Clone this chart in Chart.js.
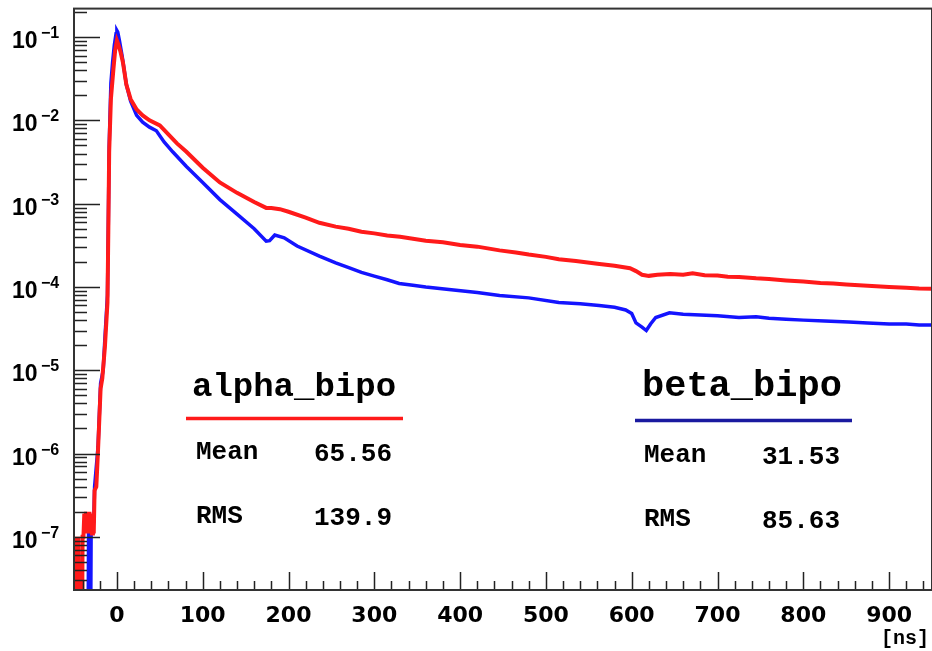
<!DOCTYPE html>
<html>
<head>
<meta charset="utf-8">
<script src="https://cdn.jsdelivr.net/npm/chart.js@4.4.1/dist/chart.umd.min.js"></script>
<style>
  html, body { margin: 0; padding: 0; background: #fff; }
  #wrap { width: 932px; height: 651px; }
</style>
</head>
<body>
<div id="wrap"><canvas id="timeChart" width="932" height="651"></canvas></div>
<script>
// alpha_bipo (red) - time [ns] and normalised amplitude
const alphaX = [-50, -49, -46, -45, -44, -41, -40, -39, -38, -37, -36, -35, -34, -33, -32, -31, -30, -29, -28, -27,
  -26, -24, -22, -19, -17, -14, -11, -10, -9, -7, -6, -4, -2, 0, 2, 4, 7, 11, 16, 23, 30, 38, 50, 60, 70, 81,
  100, 120, 140, 160, 174, 180, 190, 200, 220, 236, 255, 270, 285, 300, 315, 330, 345, 360, 380, 400, 420, 446,
  465, 480, 500, 515, 535, 560, 580, 598, 605, 612, 620, 630, 645, 660, 671, 685, 700, 712, 725, 745, 760, 780,
  800, 820, 835, 850, 870, 885, 900, 920, 935, 950];
const alphaY = [1e-7, 1e-9, 1e-9, 1e-7, 1e-9, 1e-9, 1e-7, 1e-7, 1.9e-7, 1.1e-7, 2e-7, 1.1e-7, 1.9e-7, 1.1e-7, 2e-7, 1.2e-7, 1.9e-7, 1.1e-7, 1.8e-7, 1.1e-7,
  3.6e-7, 4e-7, 1.1e-6, 6e-6, 8e-6, 1.9e-5, 6.5e-5, 4.7e-4, 4.2e-3, 0.018, 0.024, 0.042, 0.07, 0.091, 0.08, 0.068, 0.05, 0.027, 0.018, 0.0135, 0.0115, 0.01, 0.0087, 0.0068, 0.0053, 0.0042,
  0.0027, 0.0018, 0.00135, 0.00105, 8.9e-4, 8.9e-4, 8.6e-4, 8.0e-4, 6.8e-4, 5.9e-4, 5.3e-4, 5.0e-4, 4.6e-4, 4.4e-4, 4.15e-4, 4.0e-4, 3.8e-4, 3.6e-4, 3.45e-4, 3.2e-4, 3.05e-4, 2.75e-4,
  2.6e-4, 2.45e-4, 2.3e-4, 2.15e-4, 2.05e-4, 1.9e-4, 1.8e-4, 1.68e-4, 1.55e-4, 1.4e-4, 1.36e-4, 1.4e-4, 1.43e-4, 1.4e-4, 1.46e-4, 1.38e-4, 1.37e-4, 1.33e-4, 1.32e-4, 1.27e-4, 1.25e-4, 1.2e-4,
  1.16e-4, 1.12e-4, 1.1e-4, 1.07e-4, 1.04e-4, 1.02e-4, 1.0e-4, 9.8e-5, 9.6e-5, 9.5e-5];

// beta_bipo (blue)
const betaX = [-50, -34, -33, -32, -31, -30, -29, -28, -27, -26, -22, -19, -16, -14, -11, -10, -9, -7, -5, -3, -1, 0, 1, 3, 6, 11, 16, 23, 30, 38, 46,
  55, 65, 81, 100, 120, 140, 160, 174, 178, 184, 195, 210, 236, 255, 271, 285, 300, 315, 329, 345, 360, 387, 420, 446, 480, 515, 540, 562, 580, 593,
  600, 605, 612, 617, 622, 628, 644, 660, 680, 700, 725, 745, 760, 780, 800, 825, 853, 875, 900, 920, 935, 950];
const betaY = [1e-9, 1e-9, 1.3e-7, 1e-9, 1e-9, 1.3e-7, 1.5e-7, 1.4e-7, 1.5e-7, 4e-7, 1.2e-6, 7e-6, 1e-5, 2.4e-5, 8e-5, 6e-4, 5e-3, 0.028, 0.05, 0.08, 0.11, 0.12, 0.115, 0.09, 0.06, 0.027, 0.017, 0.0115, 0.0095, 0.0083, 0.0075,
  0.0055, 0.0042, 0.0028, 0.0018, 0.00112, 7.5e-4, 5e-4, 3.55e-4, 3.6e-4, 4.2e-4, 3.9e-4, 3.1e-4, 2.35e-4, 1.95e-4, 1.7e-4, 1.5e-4, 1.35e-4, 1.22e-4, 1.1e-4, 1.05e-4, 1.0e-4, 9.3e-5, 8.6e-5, 7.9e-5, 7.4e-5, 6.5e-5, 6.3e-5, 6.0e-5, 5.7e-5, 5.3e-5,
  4.8e-5, 3.7e-5, 3.3e-5, 3.0e-5, 3.6e-5, 4.3e-5, 4.9e-5, 4.7e-5, 4.6e-5, 4.5e-5, 4.3e-5, 4.4e-5, 4.2e-5, 4.1e-5, 4.0e-5, 3.9e-5, 3.8e-5, 3.7e-5, 3.6e-5, 3.6e-5, 3.5e-5, 3.5e-5];

// axis ticks
const xMajor = [0, 100, 200, 300, 400, 500, 600, 700, 800, 900];
const xMinorStep = 20;
const yDecades = [1e-7, 1e-6, 1e-5, 1e-4, 1e-3, 1e-2, 1e-1];
const yExponents = ["\u22127", "\u22126", "\u22125", "\u22124", "\u22123", "\u22122", "\u22121"];

// stat boxes
const statNames = ["alpha_bipo", "beta_bipo"];
const statMeans = ["65.56", "31.53"];
const statRMS = ["139.9", "85.63"];
const statColors = ["#ff1a1a", "#1a1aa0"];

const X_MIN = -50, X_MAX = 950, Y_MIN = 2.3e-8, Y_MAX = 0.22;

function toPoints(xs, ys) {
  return xs.map((x, i) => ({ x: x, y: ys[i] }));
}

function isDecade(v) {
  return yDecades.findIndex(d => Math.abs(d - v) / d < 1e-6);
}

// ticks drawn inside the frame, ROOT style, plus 10^n labels
const frameTicks = {
  id: "frameTicks",
  afterDatasetsDraw(chart) {
    const ctx = chart.ctx;
    const a = chart.chartArea;
    const xs = chart.scales.x, ys = chart.scales.y;
    ctx.save();
    ctx.strokeStyle = "#222";
    ctx.lineWidth = 1.5;
    ctx.beginPath();
    xs.ticks.forEach(t => {
      const px = Math.round(xs.getPixelForValue(t.value)) + 0.5;
      if (px < a.left + 2 || px > a.right - 1) return;
      const len = xMajor.includes(t.value) ? 18 : 9;
      ctx.moveTo(px, a.bottom);
      ctx.lineTo(px, a.bottom - len);
    });
    ys.ticks.forEach(t => {
      const py = Math.round(ys.getPixelForValue(t.value)) + 0.5;
      if (py < a.top + 1 || py > a.bottom - 1) return;
      const len = isDecade(t.value) >= 0 ? 26 : 13;
      ctx.moveTo(a.left, py);
      ctx.lineTo(a.left + len, py);
    });
    ctx.stroke();
    // frame
    ctx.strokeStyle = "#333";
    ctx.lineWidth = 2;
    ctx.strokeRect(a.left, a.top, a.right - a.left, a.bottom - a.top);

    // y labels: "10" with a raised exponent
    ctx.fillStyle = "#000";
    ctx.textBaseline = "alphabetic";
    ctx.textAlign = "left";
    yDecades.forEach((d, i) => {
      const py = ys.getPixelForValue(d);
      ctx.font = "bold 23px 'Liberation Sans', Arial, sans-serif";
      ctx.fillText("10", a.left - 62, py + 11);
      ctx.font = "bold 16px 'Liberation Sans', Arial, sans-serif";
      ctx.fillText(yExponents[i], a.left - 33, py + 1);
    });
    ctx.restore();
  }
};

// the two stats boxes and axis title
const statBoxes = {
  id: "statBoxes",
  afterDraw(chart) {
    const ctx = chart.ctx;
    const a = chart.chartArea;
    const boxes = [
      { text: a.left + 122, lineL: a.left + 112, lineR: a.left + 329, title: a.left + 118, titleSize: 34, val: a.left + 318, dy: 0 },
      { text: a.left + 570, lineL: a.left + 561, lineR: a.left + 778, title: a.left + 568, titleSize: 37, val: a.left + 766, dy: 3 }
    ];
    ctx.save();
    boxes.forEach((b, i) => {
      ctx.fillStyle = "#000";
      ctx.textBaseline = "alphabetic";
      ctx.textAlign = "left";
      ctx.font = "bold " + b.titleSize + "px 'Liberation Mono', 'DejaVu Sans Mono', monospace";
      ctx.fillText(statNames[i], b.title, a.top + 387);
      ctx.strokeStyle = statColors[i];
      ctx.lineWidth = 3.5;
      ctx.beginPath();
      ctx.moveTo(b.lineL, a.top + 410 + (i ? 2 : 0));
      ctx.lineTo(b.lineR, a.top + 410 + (i ? 2 : 0));
      ctx.stroke();
      ctx.font = "bold 26px 'Liberation Mono', 'DejaVu Sans Mono', monospace";
      ctx.fillText("Mean", b.text, a.top + 450 + b.dy);
      ctx.fillText("RMS", b.text, a.top + 514 + b.dy);
      ctx.textAlign = "right";
      ctx.fillText(statMeans[i], b.val, a.top + 452 + b.dy);
      ctx.fillText(statRMS[i], b.val, a.top + 516 + b.dy);
    });
    ctx.font = "bold 20px 'Liberation Mono', 'DejaVu Sans Mono', monospace";
    ctx.textAlign = "right";
    ctx.fillStyle = "#000";
    ctx.fillText("[ns]", a.right - 3, a.bottom + 54);
    ctx.restore();
  }
};

document.addEventListener("DOMContentLoaded", () => {
  const ctx = document.getElementById("timeChart").getContext("2d");

  new Chart(ctx, {
    type: "line",
    data: {
      datasets: [
        {
          label: "alpha_bipo",
          data: toPoints(alphaX, alphaY),
          borderColor: "#ff1a1a",
          borderWidth: 4,
          pointRadius: 0,
          tension: 0,
          fill: false,
          order: 1
        },
        {
          label: "beta_bipo",
          data: toPoints(betaX, betaY),
          borderColor: "#1414ff",
          borderWidth: 3.5,
          pointRadius: 0,
          tension: 0,
          fill: false,
          order: 2
        }
      ]
    },
    options: {
      responsive: false,
      animation: false,
      layout: { padding: 0 },
      plugins: {
        legend: { display: false },
        tooltip: { enabled: false }
      },
      scales: {
        x: {
          type: "linear",
          min: X_MIN,
          max: X_MAX,
          afterBuildTicks(scale) {
            const t = [];
            for (let v = -40; v <= 940; v += xMinorStep) t.push({ value: v });
            scale.ticks = t;
          },
          afterFit(scale) { scale.height = 61; },
          grid: { display: false },
          border: { display: false },
          ticks: {
            autoSkip: false,
            maxRotation: 0,
            padding: 5,
            color: "#000",
            font: { family: "'DejaVu Sans'", size: 22, weight: "bold" },
            callback: v => (xMajor.includes(v) ? String(v) : "")
          }
        },
        y: {
          type: "logarithmic",
          min: Y_MIN,
          max: Y_MAX,
          afterBuildTicks(scale) {
            const t = [];
            [1e-8].concat(yDecades).forEach(d => {
              for (let m = 1; m <= 9; m++) {
                const v = m * d;
                if (v >= Y_MIN && v <= Y_MAX) t.push({ value: v });
              }
            });
            scale.ticks = t;
          },
          afterFit(scale) { scale.width = 74; },
          grid: { display: false },
          border: { display: false },
          ticks: {
            autoSkip: false,
            padding: 8,
            color: "#000",
            font: { size: 1 },
            callback: () => ""
          }
        }
      }
    },
    plugins: [frameTicks, statBoxes]
  });
});
</script>
</body>
</html>
